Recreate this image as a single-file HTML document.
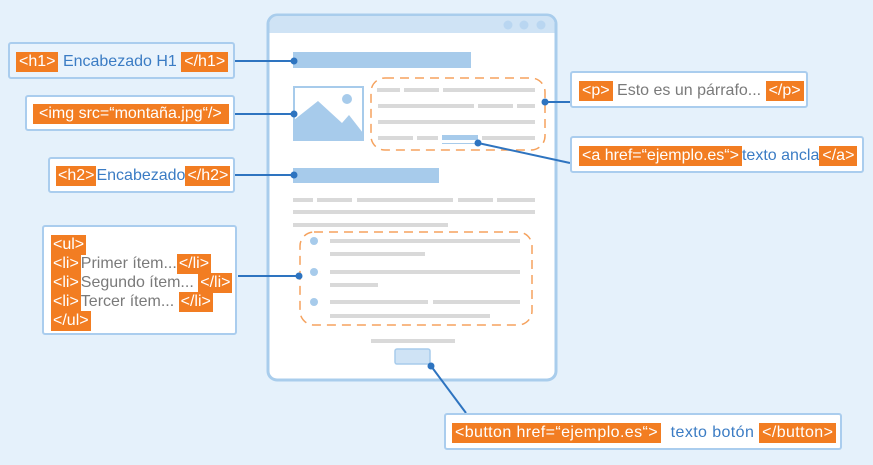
<!DOCTYPE html>
<html><head><meta charset="utf-8"><style>
body{margin:0;width:873px;height:465px;background:#e5f1fb;position:relative;overflow:hidden;font-family:"Liberation Sans",sans-serif;}
svg{position:absolute;left:0;top:0}
.b{position:absolute;border:2px solid #aacdee;border-radius:3px;background:#fff;box-sizing:border-box;font-size:16px;white-space:nowrap}
.t{background:#f27d22;color:#fff;display:inline-block;height:20px;line-height:20px;padding:0 3px}
.bl{color:#3b7cc4}.g{color:#7a7a7a}
.row{position:absolute;left:9px;height:20px;line-height:20px}
.ul .t{padding:0 2px}
</style></head><body>
<svg width="873" height="465">
<rect x="268" y="15" width="288" height="365" rx="9" fill="#fff" stroke="#a9cdec" stroke-width="3"/>
<path d="M269.5 33 V24 a8 8 0 0 1 8 -8 H546.5 a8 8 0 0 1 8 8 V33 Z" fill="#cfe3f5"/>
<circle cx="508" cy="25" r="4.5" fill="#b9d6f1"/><circle cx="524" cy="25" r="4.5" fill="#b9d6f1"/><circle cx="541" cy="25" r="4.5" fill="#b9d6f1"/>
<rect x="293" y="52" width="178" height="16" fill="#a7cbeb"/>
<rect x="294" y="87" width="69" height="53" fill="#fff" stroke="#a7cbeb" stroke-width="2"/>
<polygon points="294,120 318,101 342,123 349,115 363,133 363,140 294,140" fill="#a7cbeb"/>
<circle cx="347" cy="99" r="5" fill="#a7cbeb"/>
<rect x="371" y="78" width="174" height="72" rx="14" fill="none" stroke="#f5a25e" stroke-width="1.5" stroke-dasharray="9,6"/>
<g fill="#d9d9d9">
<rect x="377" y="88" width="23" height="4"/><rect x="404" y="88" width="35" height="4"/><rect x="443" y="88" width="92" height="4"/>
<rect x="378" y="104" width="96" height="4"/><rect x="478" y="104" width="35" height="4"/><rect x="517" y="104" width="18" height="4"/>
<rect x="378" y="120" width="157" height="4"/>
<rect x="378" y="136" width="35" height="4"/><rect x="417" y="136" width="21" height="4"/><rect x="482" y="136" width="53" height="4"/>
<rect x="293" y="198" width="20" height="4"/><rect x="317" y="198" width="35" height="4"/><rect x="357" y="198" width="96" height="4"/><rect x="458" y="198" width="35" height="4"/><rect x="497" y="198" width="38" height="4"/>
<rect x="293" y="210" width="242" height="4"/><rect x="293" y="223" width="155" height="4"/>
<rect x="330" y="239" width="190" height="4"/><rect x="330" y="252" width="95" height="4"/>
<rect x="330" y="270" width="190" height="4"/><rect x="330" y="283" width="48" height="4"/>
<rect x="330" y="300" width="98" height="4"/><rect x="433" y="300" width="87" height="4"/><rect x="330" y="314" width="160" height="4"/>
<rect x="371" y="339" width="84" height="4"/>
</g>
<rect x="442" y="135" width="36" height="5" fill="#a7cbeb"/><rect x="442" y="143" width="36" height="1" fill="#a7cbeb"/>
<rect x="293" y="168" width="146" height="15" fill="#a7cbeb"/>
<rect x="300" y="232" width="232" height="93" rx="14" fill="none" stroke="#f5a25e" stroke-width="1.5" stroke-dasharray="9,6"/>
<circle cx="314" cy="241" r="4" fill="#a7cbeb"/><circle cx="314" cy="272" r="4" fill="#a7cbeb"/><circle cx="314" cy="302" r="4" fill="#a7cbeb"/>
<rect x="395" y="349" width="35" height="15" rx="2" fill="#cfe3f5" stroke="#a7cbeb" stroke-width="1.5"/>
<g stroke="#2e74c0" stroke-width="2" fill="none">
<line x1="235" y1="61" x2="294" y2="61"/><line x1="235" y1="114" x2="294" y2="114"/><line x1="235" y1="175" x2="294" y2="175"/>
<line x1="238" y1="276" x2="299" y2="276"/><line x1="545" y1="102" x2="570" y2="102"/><line x1="478" y1="143" x2="570" y2="163"/>
<line x1="431" y1="366" x2="466" y2="413"/>
</g>
<g fill="#2e74c0">
<circle cx="294" cy="61" r="3.5"/><circle cx="294" cy="114" r="3.5"/><circle cx="294" cy="175" r="3.5"/><circle cx="299" cy="276" r="3.5"/>
<circle cx="545" cy="102" r="3.5"/><circle cx="478" cy="143" r="3.5"/><circle cx="431" cy="366" r="3.5"/>
</g>
</svg>
<div class="b" style="left:8px;top:42px;width:227px;height:37px;background:#e9f3fc"><div class="row" style="left:6px;top:8px"><span class="t">&lt;h1&gt;</span> <span class="bl">Encabezado H1</span> <span class="t">&lt;/h1&gt;</span></div></div>
<div class="b" style="left:25px;top:95px;width:210px;height:36px"><div class="row" style="left:6px;top:7px"><span class="t" style="width:190px;padding:0 0 0 6px">&lt;img src=“montaña.jpg“/&gt;</span></div></div>
<div class="b ul" style="left:48px;top:157px;width:187px;height:36px"><div class="row" style="left:6px;top:7px"><span class="t">&lt;h2&gt;</span><span class="bl">Encabezado</span><span class="t">&lt;/h2&gt;</span></div></div>
<div class="b ul" style="left:42px;top:225px;width:195px;height:110px">
<div class="row" style="left:7px;top:8px"><span class="t">&lt;ul&gt;</span></div>
<div class="row" style="left:7px;top:27px"><span class="t">&lt;li&gt;</span><span class="g">Primer ítem...</span><span class="t">&lt;/li&gt;</span></div>
<div class="row" style="left:7px;top:46px"><span class="t">&lt;li&gt;</span><span class="g">Segundo ítem...</span> <span class="t">&lt;/li&gt;</span></div>
<div class="row" style="left:7px;top:65px"><span class="t">&lt;li&gt;</span><span class="g">Tercer ítem...</span> <span class="t">&lt;/li&gt;</span></div>
<div class="row" style="left:7px;top:84px"><span class="t">&lt;/ul&gt;</span></div>
</div>
<div class="b" style="left:570px;top:71px;width:238px;height:37px"><div class="row" style="left:7px;top:8px"><span class="t">&lt;p&gt;</span> <span class="g">Esto es un párrafo...</span> <span class="t">&lt;/p&gt;</span></div></div>
<div class="b" style="left:570px;top:136px;width:294px;height:37px"><div class="row" style="left:7px;top:8px"><span class="t">&lt;a href=“ejemplo.es“&gt;</span><span class="bl">texto ancla</span><span class="t">&lt;/a&gt;</span></div></div>
<div class="b" style="left:444px;top:413px;width:398px;height:37px;letter-spacing:0.4px"><div class="row" style="left:6px;top:8px"><span class="t">&lt;button href=“ejemplo.es“&gt;</span> &nbsp;<span class="bl">texto botón</span> <span class="t">&lt;/button&gt;</span></div></div>
</body></html>
